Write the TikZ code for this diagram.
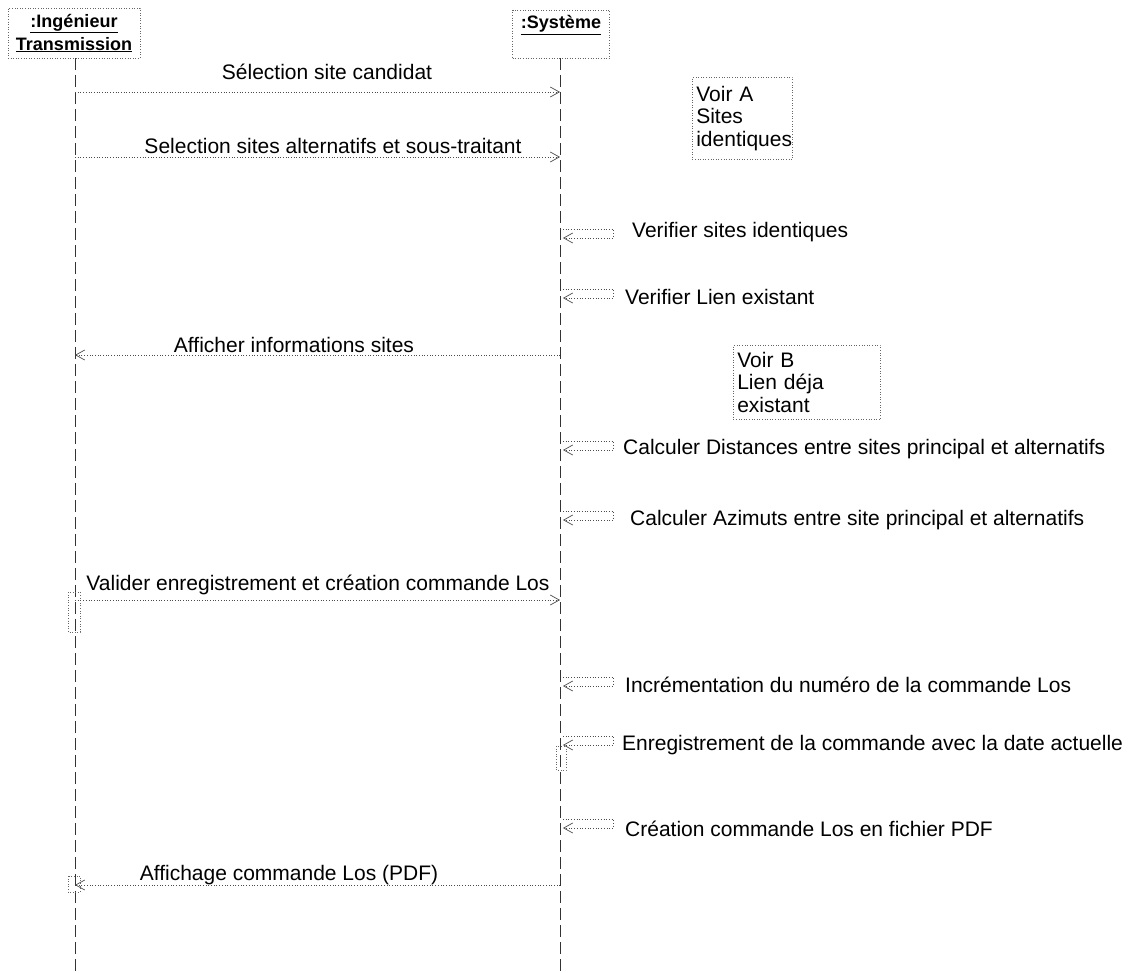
\documentclass[tikz,border=0pt]{standalone}
\usepackage{fontspec}
\setmainfont{Liberation Sans}
\usetikzlibrary{arrows.meta,calc}
\begin{document}
\begin{tikzpicture}[x=1pt,y=-1pt,
  lbl/.style={font=\fontsize{21}{24}\selectfont, inner sep=0pt},
  lblL/.style={lbl, anchor=west},
  hdr/.style={draw=black!60, dotted, line width=0.6pt, font=\fontsize{18}{23}\selectfont\bfseries, align=center, inner sep=2pt},
  life/.style={draw=black!80, dash pattern=on 12pt off 5pt, line width=0.6pt},
  msg/.style={draw=black!70, dotted, line width=0.7pt, -{Straight Barb[length=9pt,width=10pt,line width=0.7pt]}},
  notebox/.style={draw=black!60, dotted, line width=0.6pt, font=\fontsize{21}{22.5}\selectfont, align=left, anchor=north west, inner xsep=4pt, inner ysep=5pt},
  act/.style={draw=black!60, dotted, line width=0.6pt}]
\useasboundingbox (0,0) rectangle (1131,972);

% headers
\node[hdr, minimum width=132pt, minimum height=50pt] (ing) at (74,33) {\underline{:Ingénieur}\\\underline{Transmission}};
\node[hdr, minimum width=97pt, minimum height=48pt] (sys) at (561,34) {};
\node[font=\fontsize{18}{23}\selectfont\bfseries, inner sep=0pt] (systxt) at (561,25) {\underline{:Système}};

% lifeline ends
\coordinate (ingend) at (75,972);
\coordinate (sysend) at (560,972);
\draw[life] (ing.south -| ingend) -- (ingend);
\draw[life] (sys.south -| sysend) -- (sysend);

% activations
\draw[act] (68,592) rectangle (80,632);
\draw[act] (68,876) rectangle (80,892);
\draw[act] (556,746) rectangle (566,770);

% coordinates on lifelines
\foreach \n/\y in {1/92,2/157,6/355,10/600,14/885}{
  \coordinate (a\n) at (75,\y);
  \coordinate (s\n) at (560,\y);
}
\foreach \n/\y in {4/238,5/298,8/450,9/520,11/686,12/745,13/828}{
  \coordinate (s\n) at (563,\y);
  \coordinate (t\n) at (563,\y-9);
}

% messages between lifelines
\draw[msg] (a1) -- (s1);
\node[lbl] (l1) at (327,72) {Sélection site candidat};
\draw[msg] (a2) -- (s2);
\node[lbl] (l2) at (333,146) {Selection sites alternatifs et sous-traitant};
\draw[msg] (s6) -- (a6);
\node[lbl] (l6) at (294,345) {Afficher informations sites};
\draw[msg] (a10) -- (s10);
\node[lbl] (l10) at (318,585) {Valider enregistrement et création commande Los};
\draw[msg] (s14) -- (a14);
\node[lbl] (l14) at (289,875) {Affichage commande Los (PDF)};

% self messages
\foreach \n in {4,5,8,9,11,12,13}{
  \draw[msg] (t\n) -- ++(50,0) |- (s\n);
}
\node[lblL] (l4) at (632,232) {Verifier sites identiques};
\node[lblL] (l5) at (625,297) {Verifier Lien existant};
\node[lblL] (l8) at (623,449) {Calculer Distances entre sites principal et alternatifs};
\node[lblL] (l9) at (630,520) {Calculer Azimuts entre site principal et alternatifs};
\node[lblL] (l11) at (625,685) {Incrémentation du numéro de la commande Los};
\node[lblL] (l12) at (622,745) {Enregistrement de la commande avec la date actuelle};
\node[lblL] (l13) at (625,829) {Création commande Los en fichier PDF};

% notes
\node[notebox, text width=92pt, minimum height=82pt] (noteA) at (692,77) {Voir A\\Sites\\identiques};
\node[notebox, text width=139pt, minimum height=74pt] (noteB) at (733,345) {Voir B\\Lien déja\\existant};
\end{tikzpicture}
\end{document}
